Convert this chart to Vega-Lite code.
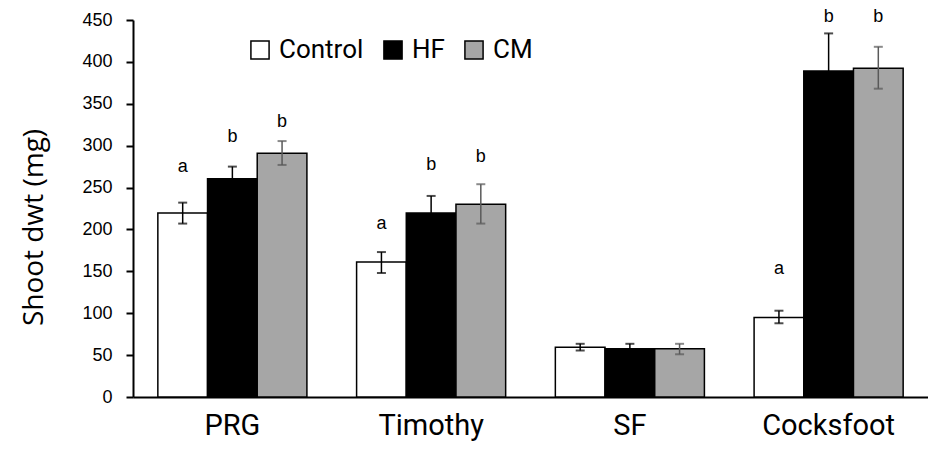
{
  "$schema": "https://vega.github.io/schema/vega-lite/v6.json",
  "width": 795,
  "height": 377,
  "autosize": "none",
  "padding": {"left": 133, "top": 20, "right": 0, "bottom": 60},
  "background": "white",
  "config": {
    "view": {"stroke": null},
    "font": "Roboto"
  },
  "data": {
    "values": [
      {"cat": "PRG", "trt": "Control", "mean": 219.5, "lo": 207, "hi": 232, "letter": "a", "ly": 274},
      {"cat": "PRG", "trt": "HF", "mean": 260.5, "lo": 247, "hi": 275, "letter": "b", "ly": 310},
      {"cat": "PRG", "trt": "CM", "mean": 291, "lo": 277, "hi": 305.5, "letter": "b", "ly": 328},
      {"cat": "Timothy", "trt": "Control", "mean": 161, "lo": 148, "hi": 173, "letter": "a", "ly": 206},
      {"cat": "Timothy", "trt": "HF", "mean": 219.5, "lo": 200, "hi": 240, "letter": "b", "ly": 277},
      {"cat": "Timothy", "trt": "CM", "mean": 230, "lo": 207, "hi": 254, "letter": "b", "ly": 286},
      {"cat": "SF", "trt": "Control", "mean": 59.5, "lo": 55.5, "hi": 63.5, "letter": "", "ly": 0},
      {"cat": "SF", "trt": "HF", "mean": 57.5, "lo": 51.5, "hi": 63.5, "letter": "", "ly": 0},
      {"cat": "SF", "trt": "CM", "mean": 57.5, "lo": 51, "hi": 63.5, "letter": "", "ly": 0},
      {"cat": "Cocksfoot", "trt": "Control", "mean": 95, "lo": 88, "hi": 103, "letter": "a", "ly": 153},
      {"cat": "Cocksfoot", "trt": "HF", "mean": 389, "lo": 343, "hi": 434, "letter": "b", "ly": 454},
      {"cat": "Cocksfoot", "trt": "CM", "mean": 392.5, "lo": 368, "hi": 418, "letter": "b", "ly": 454}
    ]
  },
  "encoding": {
    "x": {
      "field": "cat", "type": "nominal",
      "sort": ["PRG", "Timothy", "SF", "Cocksfoot"],
      "scale": {"paddingInner": 0.25, "paddingOuter": 0.125},
      "axis": {
        "title": null, "labelAngle": 0, "ticks": false,
        "labelFontSize": 29, "labelColor": "black", "labelPadding": 28, "labelBaseline": "middle",
        "labelFont": "Roboto",
        "domainColor": "black", "domainWidth": 2
      }
    },
    "xOffset": {
      "field": "trt", "type": "nominal",
      "sort": ["Control", "HF", "CM"],
      "scale": {"paddingInner": 0, "paddingOuter": 0}
    }
  },
  "layer": [
    {
      "mark": {"type": "bar", "stroke": "black", "strokeWidth": 1.5},
      "encoding": {
        "y": {
          "field": "mean", "type": "quantitative",
          "scale": {"domain": [0, 450]},
          "axis": {
            "title": "Shoot dwt (mg)", "titleFontSize": 28, "titleFont": "Open Sans",
            "titleFontWeight": "normal", "titleColor": "black",
            "titleX": -99, "titleY": 207, "titleAngle": -90, "titleAlign": "center", "titleBaseline": "middle",
            "values": [0, 50, 100, 150, 200, 250, 300, 350, 400, 450],
            "grid": false, "tickSize": 7, "tickColor": "black", "tickWidth": 2,
            "labelFontSize": 18, "labelColor": "black", "labelPadding": 14, "labelFont": "Liberation Sans",
            "domainColor": "black", "domainWidth": 2
          }
        },
        "fill": {
          "field": "trt", "type": "nominal",
          "sort": ["Control", "HF", "CM"],
          "scale": {"domain": ["Control", "HF", "CM"], "range": ["white", "black", "#a6a6a6"]},
          "legend": {
            "title": null, "orient": "none", "legendX": 114, "legendY": 17,
            "direction": "horizontal", "symbolType": "square", "symbolSize": 330,
            "symbolStrokeColor": "black", "symbolStrokeWidth": 1.5, "symbolOpacity": 1,
            "labelFontSize": 26, "labelFont": "Roboto", "labelColor": "black",
            "labelOffset": 6, "columnPadding": 16
          }
        }
      }
    },
    {
      "mark": {"type": "rule", "strokeWidth": 1.5},
      "encoding": {
        "y": {"field": "lo", "type": "quantitative"},
        "y2": {"field": "hi"},
        "stroke": {"condition": {"test": "datum.trt === 'CM'", "value": "#595959"}, "value": "black"}
      }
    },
    {
      "mark": {"type": "tick", "size": 9, "thickness": 2, "orient": "horizontal"},
      "encoding": {
        "y": {"field": "lo", "type": "quantitative"},
        "color": {"condition": {"test": "datum.trt === 'CM'", "value": "#595959"}, "value": "black"}
      }
    },
    {
      "mark": {"type": "tick", "size": 9, "thickness": 2, "orient": "horizontal"},
      "encoding": {
        "y": {"field": "hi", "type": "quantitative"},
        "color": {"condition": {"test": "datum.trt === 'CM'", "value": "#595959"}, "value": "black"}
      }
    },
    {
      "mark": {"type": "text", "fontSize": 18, "font": "Liberation Sans", "color": "black", "baseline": "middle"},
      "encoding": {
        "y": {"field": "ly", "type": "quantitative"},
        "text": {"field": "letter"}
      }
    }
  ]
}
